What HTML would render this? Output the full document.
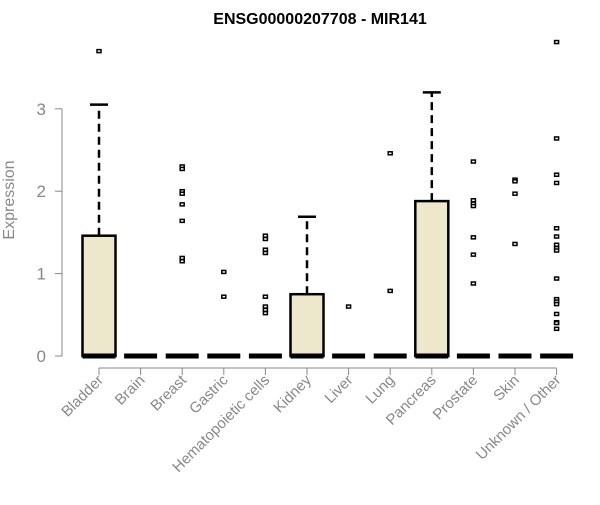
<!DOCTYPE html>
<html><head><meta charset="utf-8"><style>body{margin:0;background:#fff}svg{font-family:"Liberation Sans",Arial,sans-serif}</style></head>
<body>
<svg id="chart" width="600" height="500" viewBox="0 0 600 500" xmlns="http://www.w3.org/2000/svg">
<text x="320" y="24" text-anchor="middle" font-size="16" font-weight="bold">ENSG00000207708 - MIR141</text>
<text transform="translate(14,200) rotate(-90)" text-anchor="middle" font-size="16" fill="#888">Expression</text>
<g id="plot"></g>
</svg>
<script>
const categories=["Bladder","Brain","Breast","Gastric","Hematopoietic cells","Kidney","Liver","Lung","Pancreas","Prostate","Skin","Unknown / Other"];
const q3=[1.46,0,0,0,0,0.75,0,0,1.88,0,0,0];
const whiskerHigh=[3.05,0,0,0,0,1.69,0,0,3.20,0,0,0];
const outliers=[[3.70],[],[2.30,2.27,2.0,1.97,1.84,1.64,1.19,1.15],[1.02,0.72],[1.46,1.42,1.29,1.25,0.72,0.60,0.56,0.52],[],[0.60],[2.46,0.79],[],[2.36,1.89,1.85,1.82,1.44,1.23,0.88],[2.14,2.12,1.97,1.36],[3.81,2.64,2.20,2.10,1.55,1.45,1.35,1.31,1.28,0.94,0.69,0.66,0.63,0.51,0.41,0.40,0.33]];
const yTicks=[0,1,2,3];
const NS="http://www.w3.org/2000/svg";
const g=document.getElementById('plot');
const x=i=>99+i*41.6, y=v=>356-v*82.4, hw=16.5;
function mk(t,a){const e=document.createElementNS(NS,t);for(const k in a)e.setAttribute(k,a[k]);g.appendChild(e);return e;}
let e=mk('line',{x1:62,x2:62,y1:y(0),y2:y(3),stroke:'#888'});


yTicks.forEach(t=>{
 let l=mk('line',{x1:55,x2:62,y1:y(t),y2:y(t),stroke:'#888'});
 
 
 let s=mk('text',{x:46,y:y(t)+6,'text-anchor':'end','font-size':17,fill:'#888'});s.textContent=t;
 
 
});
e=mk('line',{x1:x(0),x2:x(11),y1:368,y2:368,stroke:'#888'});


categories.forEach((c,i)=>{
 const cx=x(i);
 let l=mk('line',{x1:cx,x2:cx,y1:368,y2:375,stroke:'#888'});
 
 
 let t=mk('text',{transform:`translate(${cx+5},${381}) rotate(-45)`,'text-anchor':'end','font-size':15,fill:'#888'});t.textContent=c;
 
 
 if(whiskerHigh[i]>q3[i]){
  let w=mk('line',{x1:cx,x2:cx,y1:y(q3[i]),y2:y(whiskerHigh[i]),stroke:'#000','stroke-width':2.5,'stroke-dasharray':'8,5'});
  
  
  let cap=mk('line',{x1:cx-9,x2:cx+9,y1:y(whiskerHigh[i]),y2:y(whiskerHigh[i]),stroke:'#000','stroke-width':2.5});
  
  
 }
 if(q3[i]>0){
  let b=mk('rect',{x:cx-hw,y:y(q3[i]),width:2*hw,height:y(0)-y(q3[i]),fill:'#ede7cc',stroke:'#000','stroke-width':2.5});
  
  
 }
 let m=mk('line',{x1:cx-hw,x2:cx+hw,y1:y(0),y2:y(0),stroke:'#000','stroke-width':5});
 
 
 outliers[i].forEach(v=>{
  let p=mk('rect',{x:cx-2,y:y(v)-1.5,width:4,height:3,fill:'#fff',stroke:'#000','stroke-width':1.5});
  
  
 });
});
</script>
</body></html>
